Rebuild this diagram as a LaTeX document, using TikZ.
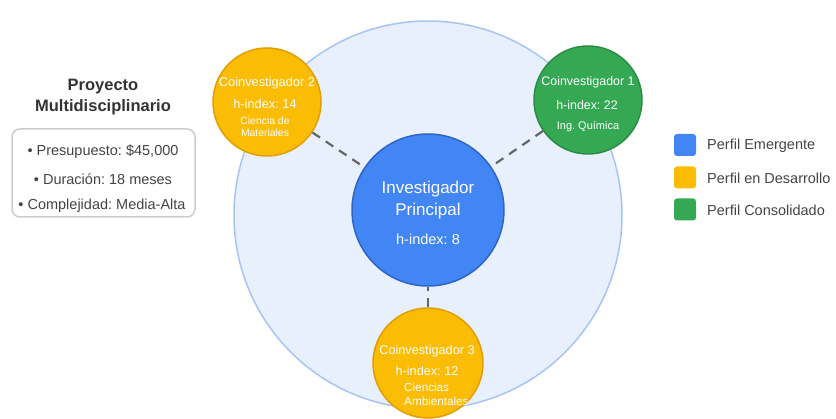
\documentclass[tikz,border=0pt]{standalone}
\usepackage{fontspec}
\setmainfont{Liberation Sans}
\frenchspacing
\definecolor{bigfill}{HTML}{E8F0FE}
\definecolor{bigline}{HTML}{A8C4F5}
\definecolor{pblue}{HTML}{4285F4}
\definecolor{pblueline}{HTML}{2F64C8}
\definecolor{porange}{HTML}{FBBC04}
\definecolor{porangeline}{HTML}{E39E00}
\definecolor{pgreen}{HTML}{34A853}
\definecolor{pgreenline}{HTML}{2B8C45}
\definecolor{linkgray}{HTML}{666666}
\definecolor{txtdark}{HTML}{333333}
\definecolor{txtmid}{HTML}{444444}
\definecolor{boxline}{HTML}{CCCCCC}
\begin{document}
\frenchspacing
\begin{tikzpicture}[x=1pt,y=-1pt,
  bigc/.style={circle, fill=bigfill, draw=bigline, line width=1.5pt, minimum size=388pt, inner sep=0pt},
  person/.style={circle, minimum size=#1, inner sep=0pt, line width=1.5pt},
  link/.style={draw=linkgray, line width=2.2pt, dash pattern=on 9pt off 7pt},
  wt/.style={text=white, inner sep=0pt, anchor=center},
  lt/.style={text=txtmid, inner sep=0pt, anchor=center, font=\fontsize{14.5}{17}\selectfont},
  legtxt/.style={text=txtmid, inner sep=0pt, anchor=west, font=\fontsize{14.5}{17}\selectfont},
  legbox/.style={minimum size=22pt, inner sep=0pt, rounded corners=3pt},
]
\useasboundingbox (0,0) rectangle (836,419);

% big background circle
\node[bigc] (big) at (428,215) {};

% person circles
\node[person=152pt, fill=pblue, draw=pblueline] (pi) at (428,210) {};
\node[person=108pt, fill=porange, draw=porangeline] (co2) at (267,102) {};
\node[person=108pt, fill=pgreen, draw=pgreenline] (co1) at (588,100) {};
\node[person=110pt, fill=porange, draw=porangeline] (co3) at (428,363) {};

% links
\draw[link] (co2) -- (pi);
\draw[link] (co1) -- (pi);
\draw[link] (co3) -- (pi);

% central text
\node[wt, font=\fontsize{17}{20}\selectfont] (pi1) at (428,189) {Investigador};
\node[wt, font=\fontsize{17}{20}\selectfont] (pi2) at (428,211) {Principal};
\node[wt, font=\fontsize{14.5}{17}\selectfont] (pi3) at (428,239) {h-index: 8};

% co2 text
\node[wt, font=\fontsize{12.8}{15}\selectfont] (c2a) at (267,83) {Coinvestigador 2};
\node[wt, font=\fontsize{12.8}{15}\selectfont] (c2b) at (265,104) {h-index: 14};
\node[wt, font=\fontsize{10.4}{12}\selectfont] (c2c) at (265,121) {Ciencia de};
\node[wt, font=\fontsize{10.4}{12}\selectfont] (c2d) at (265,133) {Materiales};

% co1 text
\node[wt, font=\fontsize{12.4}{15}\selectfont] (c1a) at (588,82) {Coinvestigador 1};
\node[wt, font=\fontsize{12.4}{15}\selectfont] (c1b) at (587,105) {h-index: 22};
\node[wt, font=\fontsize{11}{13}\selectfont] (c1c) at (588,127) {Ing. Química};

% co3 text
\node[wt, font=\fontsize{12.7}{15}\selectfont] (c3a) at (427,351) {Coinvestigador 3};
\node[wt, font=\fontsize{12.7}{15}\selectfont] (c3b) at (427,371) {h-index: 12};
\node[wt, font=\fontsize{11.7}{14}\selectfont, anchor=west] (c3c) at (404,387) {Ciencias};
\node[wt, font=\fontsize{11.7}{14}\selectfont, anchor=west] (c3d) at (404,401) {Ambientales};

% project title and box
\node[text=txtdark, inner sep=0pt, font=\fontsize{16.5}{19}\bfseries\selectfont] (t1) at (103,87) {Proyecto};
\node[text=txtdark, inner sep=0pt, font=\fontsize{16.5}{19}\bfseries\selectfont] (t2) at (103,107) {Multidisciplinario};
\node[draw=boxline, fill=white, line width=1.5pt, rounded corners=8pt, minimum width=183pt, minimum height=88pt, inner sep=0pt] (pbox) at (103.5,173) {};
\node[lt] (b1) at (103,152) {• Presupuesto: \$45,000};
\node[lt] (b2) at (103,179) {• Duración: 18 meses};
\node[lt] (b3) at (102,206) {• Complejidad: Media-Alta};

% legend
\node[legbox, fill=pblue] (l1) at (685,145) {};
\node[legbox, fill=porange] (l2) at (685,177.5) {};
\node[legbox, fill=pgreen] (l3) at (685,209.5) {};
\node[legtxt] (lt1) at (707,146) {Perfil Emergente};
\node[legtxt] (lt2) at (707,178) {Perfil en Desarrollo};
\node[legtxt] (lt3) at (707,210) {Perfil Consolidado};
\end{tikzpicture}
\end{document}
